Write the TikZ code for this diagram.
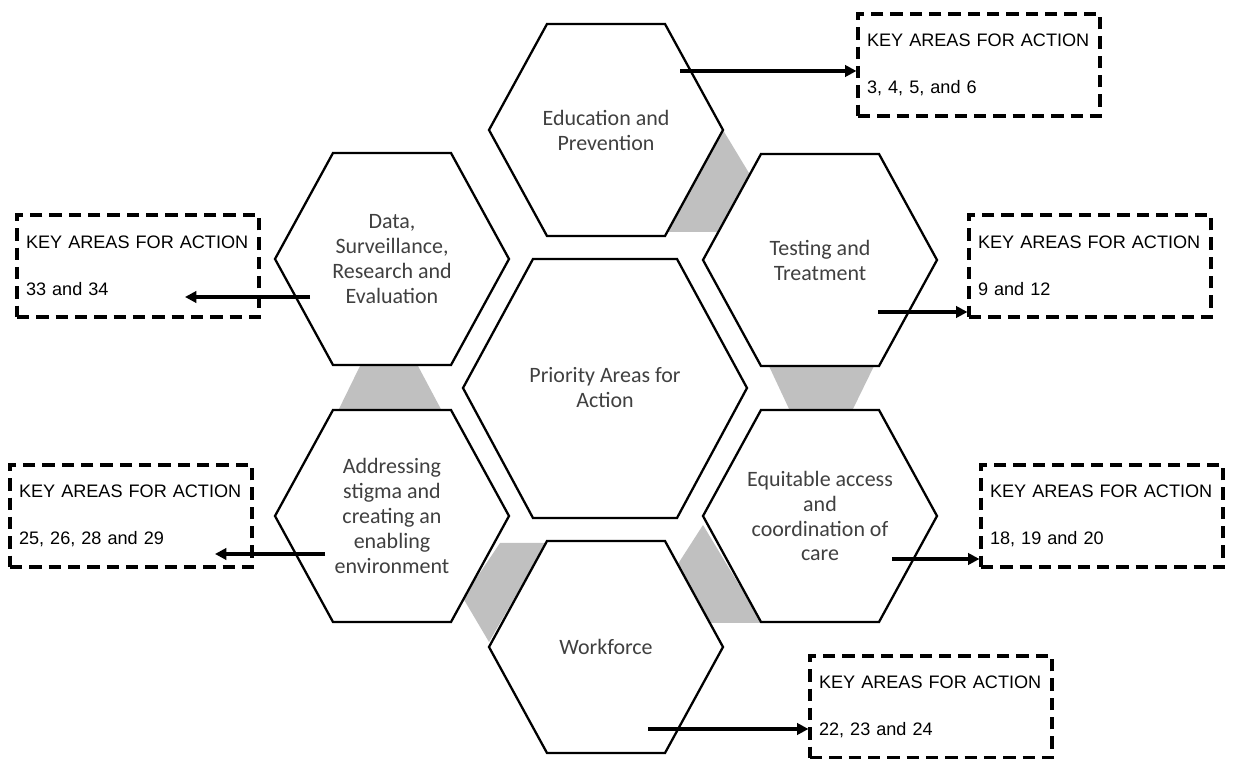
\documentclass[tikz,border=0pt]{standalone}
\usepackage{fontspec}
\setmainfont{Carlito}
\newfontfamily\keyfont{Liberation Sans}
\usetikzlibrary{arrows.meta}
\definecolor{hexgray}{RGB}{64,64,64}
\definecolor{linkgray}{RGB}{192,192,192}

\begin{document}
\begin{tikzpicture}[x=0.02cm, y=-0.02cm,
		hexline/.style={draw=black, fill=white, line width=1.3pt, line join=miter},
		link/.style={fill=linkgray, draw=none},
		hextext/.style={align=center, text=hexgray, font=\fontsize{12.5}{14.2}\selectfont},
		keybox/.style={draw, dash pattern=on 7pt off 4pt, line width=1.8pt, minimum width=4.84cm, minimum height=2.04cm, inner xsep=0.18cm, text width=4.48cm, align=left, font=\keyfont\fontsize{10.3}{12}\selectfont},
		keyarrow/.style={-{Triangle[length=6.5pt,width=6.5pt]}, line width=2pt}]
		\useasboundingbox (0,0) rectangle (1235,759);

		% grey links between the outer hexagons
		\fill[link] (723,130) -- (752,178) -- (720,232) -- (666,232) -- cycle;
		\fill[link] (768,364) -- (875,364) -- (852,411) -- (790,411) -- cycle;
		\fill[link] (703,525) -- (762,623) -- (705,623) -- (676,567) -- cycle;
		\fill[link] (500,543) -- (546,543) -- (489,642) -- (463,598) -- cycle;
		\fill[link] (360,366) -- (418,366) -- (443,413) -- (337,413) -- cycle;

		% hexagons
		\foreach \cx/\cy in {606/130, 392/259, 820/260, 392/516, 820/516, 606/647}
			\draw[hexline] (\cx-117,\cy) -- (\cx-59,\cy-106) -- (\cx+59,\cy-106) -- (\cx+117,\cy) -- (\cx+59,\cy+106) -- (\cx-59,\cy+106) -- cycle;
		\draw[hexline] (463,388) -- (533,259) -- (677,259) -- (747,388) -- (677,518) -- (533,518) -- cycle;

		\draw (605,388) node[hextext] (prio) {Priority Areas for\\Action};
		\draw (606,130) node[hextext] (edu) {Education and\\Prevention};
		\draw (392,259) node[hextext] (data) {Data,\\Surveillance,\\Research and\\Evaluation};
		\draw (820,260) node[hextext] (test) {Testing and\\Treatment};
		\draw (392,516) node[hextext] (addr) {Addressing\\stigma and\\creating an\\enabling\\environment};
		\draw (820,516) node[hextext] (equit) {Equitable access\\and\\coordination of\\care};
		\draw (606,647) node[hextext] (work) {Workforce};

		% key areas
		\draw (979,65) node[keybox] (edubox) {KEY AREAS FOR ACTION\\[15pt]3, 4, 5, and 6};
		\draw (1090,266) node[keybox] (testbox) {KEY AREAS FOR ACTION\\[15pt]9 and 12};
		\draw (1102,516) node[keybox] (equitbox) {KEY AREAS FOR ACTION\\[15pt]18, 19 and 20};
		\draw (931,707) node[keybox] (workbox) {KEY AREAS FOR ACTION\\[15pt]22, 23 and 24};
		\draw (138,266) node[keybox] (databox) {KEY AREAS FOR ACTION\\[15pt]33 and 34};
		\draw (131,516) node[keybox] (addrbox) {KEY AREAS FOR ACTION\\[15pt]25, 26, 28 and 29};

		\coordinate (edu-out) at (680,71);
		\coordinate (test-out) at (878,312);
		\coordinate (equit-out) at (892,559);
		\coordinate (work-out) at (648,729);
		\coordinate (data-out) at (310,297);
		\coordinate (data-in) at (185,297);
		\coordinate (addr-out) at (325,554);
		\coordinate (addr-in) at (215,554);

		\draw[keyarrow] (edu-out) -- (edu-out -| edubox.west);
		\draw[keyarrow] (test-out) -- (test-out -| testbox.west);
		\draw[keyarrow] (equit-out) -- (equit-out -| equitbox.west);
		\draw[keyarrow] (work-out) -- (work-out -| workbox.west);
		\draw[keyarrow] (data-out) -- (data-in);
		\draw[keyarrow] (addr-out) -- (addr-in);
	\end{tikzpicture}
\end{document}
